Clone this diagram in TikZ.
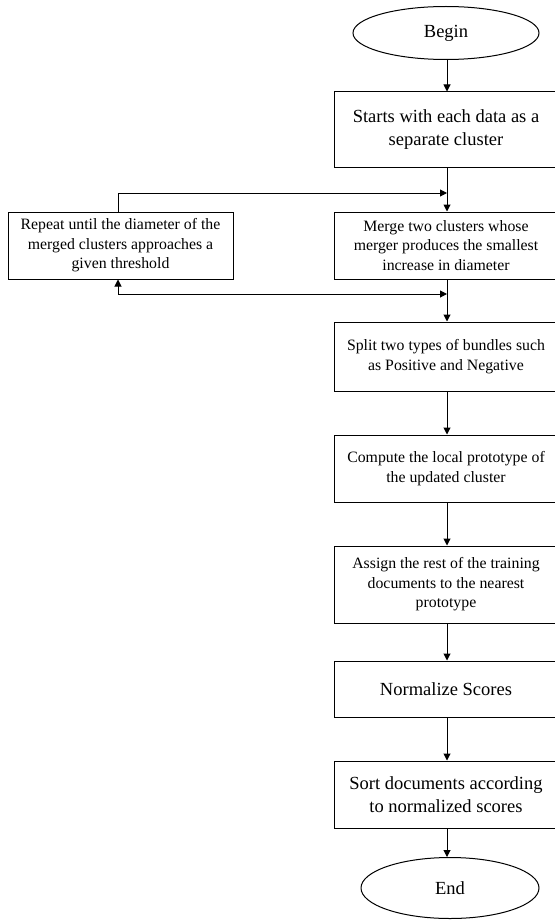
\documentclass[tikz,border=0pt]{standalone}
\usepackage{fontspec}
\setmainfont{Liberation Serif}
\usetikzlibrary{arrows.meta,shapes.geometric}
\tikzset{
  box/.style={draw, line width=1pt, minimum width=224pt, align=center, inner sep=0pt},
  bigtxt/.style={font=\fontsize{18.5}{23}\selectfont},
  smalltxt/.style={font=\fontsize{15.8}{19.5}\selectfont},
  oval/.style={draw, line width=1pt, ellipse, inner sep=0pt, font=\fontsize{18.5}{23}\selectfont},
  arr/.style={line width=1pt, -{Triangle[length=7pt,width=7pt]}},
  arrb/.style={line width=1pt, {Triangle[length=7pt,width=7pt]}-{Triangle[length=7pt,width=7pt]}},
  ln/.style={line width=1pt}
}
\begin{document}
\begin{tikzpicture}[x=1pt,y=-1pt]
\useasboundingbox (0,0) rectangle (554,920);
\fill[white] (0,0) rectangle (554,920);
\coordinate (col) at (447,0);
\coordinate (lx) at (118,0);
\node[oval, minimum width=186pt, minimum height=53pt] (begin) at (446,33) {Begin};
\node[box, bigtxt, minimum height=76pt] (starts) at (446,130) {Starts with each data as a\\separate cluster};
\node[box, smalltxt, minimum width=225pt, minimum height=67pt] (repeat) at (120.5,245.5) {Repeat until the diameter of the\\merged clusters approaches a\\given threshold};
\node[box, smalltxt, minimum height=67pt] (merge) at (446,245.5) {Merge two clusters whose\\merger produces the smallest\\increase in diameter};
\node[box, smalltxt, minimum height=69pt] (split) at (446,356.5) {Split two types of bundles such\\as Positive and Negative};
\node[box, smalltxt, minimum height=67pt] (compute) at (446,468.5) {Compute the local prototype of\\the updated cluster};
\node[box, smalltxt, minimum height=77pt] (assign) at (446,584.5) {Assign the rest of the training\\documents to the nearest\\prototype};
\node[box, bigtxt, minimum height=56pt] (norm) at (446,689) {Normalize Scores};
\node[box, bigtxt, minimum height=67pt] (sort) at (446,794.5) {Sort documents according\\to normalized scores};
\node[oval, minimum width=178pt, minimum height=61pt] (end) at (450,888) {End};
\coordinate (topjoin) at (447,193);
\coordinate (botjoin) at (447,294);
\draw[arr] (begin.south -| col) -- (starts.north -| col);
\draw[arr] (starts.south -| col) -- (merge.north -| col);
\draw[arr] (repeat.north -| lx) |- (topjoin);
\draw[arr] (merge.south -| col) -- (split.north -| col);
\draw[arrb] (repeat.south -| lx) |- (botjoin);
\draw[arr] (split.south -| col) -- (compute.north -| col);
\draw[arr] (compute.south -| col) -- (assign.north -| col);
\draw[arr] (assign.south -| col) -- (norm.north -| col);
\draw[arr] (norm.south -| col) -- (sort.north -| col);
\draw[arr] (sort.south -| col) -- (end.north -| col);
\end{tikzpicture}
\end{document}
